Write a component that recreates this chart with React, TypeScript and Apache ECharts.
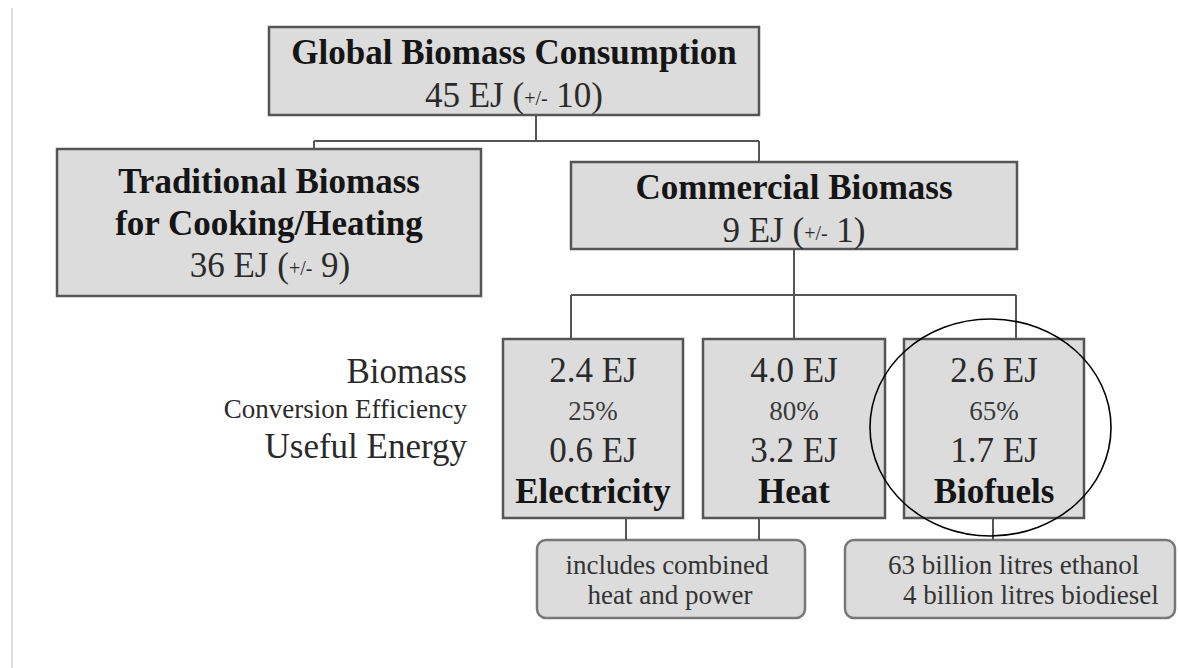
import React, { useEffect, useRef } from "react";
import * as echarts from "echarts";

// ---- Diagram content ----
const topTitle = "Global Biomass Consumption";
const topValue = ["45 EJ (", "+/-", " 10)"];
const traditionalTitle = ["Traditional Biomass", "for Cooking/Heating"];
const traditionalValue = ["36 EJ (", "+/-", " 9)"];
const commercialTitle = "Commercial Biomass";
const commercialValue = ["9 EJ (", "+/-", " 1)"];
const rowLabels = ["Biomass", "Conversion Efficiency", "Useful Energy"];
const useNames = ["Electricity", "Heat", "Biofuels"];
const biomassEJ = ["2.4 EJ", "4.0 EJ", "2.6 EJ"];
const efficiency = ["25%", "80%", "65%"];
const usefulEJ = ["0.6 EJ", "3.2 EJ", "1.7 EJ"];
const noteCHP = ["includes combined", "heat and power"];
const noteBiofuels = ["63 billion litres ethanol", "4 billion litres biodiesel"];

const FONT = '"Liberation Serif", "Times New Roman", Times, serif';
const FILL = "#dcdcdc";
const EDGE = "#555555";

function txt(x: number, y: number, text: string, size: number, opts: any = {}) {
  const align = opts.align || "center";
  return {
    type: "text",
    x,
    y,
    z: 10,
    style: {
      text,
      fontFamily: FONT,
      fontSize: size,
      fontWeight: opts.bold ? "bold" : "normal",
      fill: opts.color || (opts.bold ? "#151515" : "#2a2a2a"),
      align,
      verticalAlign: "middle",
      textAlign: align,
      textVerticalAlign: "middle",
    },
  };
}

function richVal(x: number, y: number, parts: string[]) {
  return {
    type: "text",
    x,
    y,
    z: 10,
    style: {
      text: `{n|${parts[0]}}{s|${parts[1]}}{n|${parts[2]}}`,
      fontFamily: FONT,
      align: "center",
      verticalAlign: "middle",
      textAlign: "center",
      textVerticalAlign: "middle",
      rich: {
        n: { fontFamily: FONT, fontSize: 35, fill: "#2a2a2a", color: "#2a2a2a" },
        s: { fontFamily: FONT, fontSize: 20, fill: "#2a2a2a", color: "#2a2a2a", padding: [6, 0, 0, 0] },
      },
    },
  };
}

function box(x1: number, y1: number, x2: number, y2: number, r = 0, stroke = EDGE) {
  return {
    type: "rect",
    z: 1,
    shape: { x: x1, y: y1, width: x2 - x1, height: y2 - y1, r },
    style: { fill: FILL, stroke, lineWidth: 2.5 },
  };
}

function seg(x1: number, y1: number, x2: number, y2: number) {
  return {
    type: "line",
    z: 2,
    shape: { x1, y1, x2, y2 },
    style: { stroke: EDGE, lineWidth: 2 },
  };
}

export default function App() {
  const ref = useRef<HTMLDivElement>(null);

  useEffect(() => {
    if (!ref.current) return;
    const chart = echarts.init(ref.current, undefined, { renderer: "svg" });

    const useBoxes = [
      [503, 683],
      [703, 885],
      [904, 1084],
    ];
    const useTops = [571, 794, 1016];
    const useBottoms = [626, 759, 993];

    const elements: any[] = [];

    // page left rule
    elements.push({
      type: "line",
      shape: { x1: 12, y1: 8, x2: 12, y2: 668 },
      style: { stroke: "#dddddd", lineWidth: 2 },
    });

    // connectors
    elements.push(seg(536, 115, 536, 141));
    elements.push(seg(314, 141, 759, 141));
    elements.push(seg(314, 141, 314, 150));
    elements.push(seg(759, 141, 759, 162));
    elements.push(seg(794, 249, 794, 295));
    elements.push(seg(571, 295, 1016, 295));
    useTops.forEach((x) => elements.push(seg(x, 295, x, 339)));
    useBottoms.forEach((x) => elements.push(seg(x, 518, x, 540)));

    // top box
    elements.push(box(269, 27, 759, 115));
    elements.push(txt(514, 52, topTitle, 35, { bold: true }));
    elements.push(richVal(514, 95, topValue));

    // traditional box
    elements.push(box(57, 149, 481, 296));
    elements.push(txt(269, 181, traditionalTitle[0], 35, { bold: true }));
    elements.push(txt(269, 223, traditionalTitle[1], 35, { bold: true }));
    elements.push(richVal(270, 265, traditionalValue));

    // commercial box
    elements.push(box(571, 162, 1017, 249));
    elements.push(txt(794, 187, commercialTitle, 35, { bold: true }));
    elements.push(richVal(794, 230, commercialValue));

    // row labels
    elements.push(txt(467, 371, rowLabels[0], 35, { align: "right" }));
    elements.push(txt(467, 409, rowLabels[1], 27, { align: "right" }));
    elements.push(txt(467, 446, rowLabels[2], 35, { align: "right" }));

    // use boxes
    useBoxes.forEach(([a, b], i) => {
      const cx = (a + b) / 2;
      elements.push(box(a, 339, b, 518));
      elements.push(txt(cx, 370, biomassEJ[i], 35));
      elements.push(txt(cx, 411, efficiency[i], 27, { color: "#3a3a3a" }));
      elements.push(txt(cx, 450, usefulEJ[i], 35));
      elements.push(txt(cx, 491, useNames[i], 35, { bold: true }));
    });

    // note boxes
    elements.push(box(537, 540, 805, 618, 9, "#777777"));
    elements.push(txt(667, 565, noteCHP[0], 27, { color: "#333" }));
    elements.push(txt(670, 595, noteCHP[1], 27, { color: "#333" }));
    elements.push(box(845, 540, 1175, 618, 9, "#777777"));
    elements.push(txt(888, 565, noteBiofuels[0], 27, { align: "left", color: "#333" }));
    elements.push(txt(903, 595, noteBiofuels[1], 27, { align: "left", color: "#333" }));

    // highlight ellipse
    elements.push({
      type: "ellipse",
      z: 20,
      shape: { cx: 990.5, cy: 427.5, rx: 120.5, ry: 108.5 },
      style: { fill: "none", stroke: "#000000", lineWidth: 1.6 },
    });

    chart.setOption({
      animation: false,
      backgroundColor: "#ffffff",
      graphic: { elements },
    });

    return () => chart.dispose();
  }, []);

  return (
    <div
      ref={ref}
      style={{ position: "absolute", left: 0, top: 0, width: 1178, height: 668 }}
    />
  );
}
